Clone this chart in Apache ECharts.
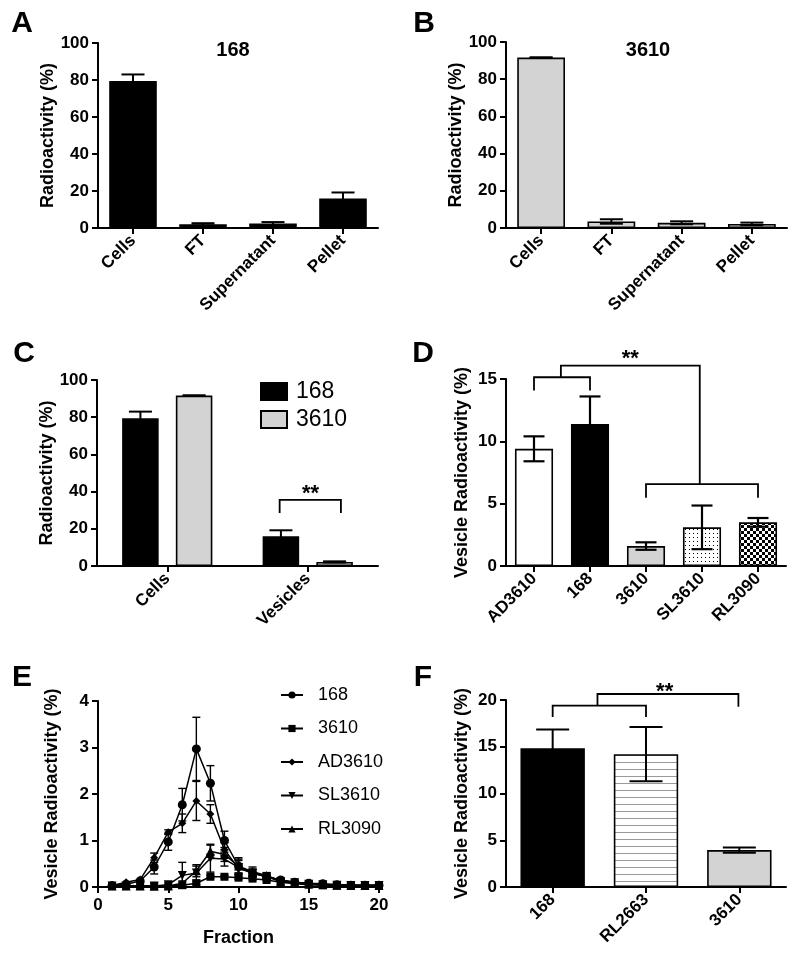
<!DOCTYPE html>
<html><head><meta charset="utf-8">
<script src="https://cdn.jsdelivr.net/npm/echarts@6/dist/echarts.min.js"></script>
<style>html,body{margin:0;padding:0;background:#fff}#c{width:800px;height:961px}</style>
</head><body><div id="c"></div>
<script>
// ---------- DATA ----------
const catsAB = ['Cells', 'FT', 'Supernatant', 'Pellet'];
const valA = [79.5, 2.0, 2.4, 16.0];
const errA = [3.5, 0.6, 0.8, 3.2];
const valB = [91.6, 3.5, 2.8, 2.2];
const errB = [0.2, 1.2, 0.8, 0.7];

const catsC = ['Cells', 'Vesicles'];
const valC168 = [79.5, 16.0];
const errC168 = [3.5, 3.2];
const valC3610 = [91.6, 2.2];
const errC3610 = [0.2, 0.3];

const catsD = ['AD3610', '168', '3610', 'SL3610', 'RL3090'];
const valD = [9.4, 11.4, 1.6, 3.1, 3.5];
const errD = [1.0, 2.2, 0.3, 1.75, 0.35];

const fractions = [1, 2, 3, 4, 5, 6, 7, 8, 9, 10, 11, 12, 13, 14, 15, 16, 17, 18, 19, 20];
const e168    = [0.03, 0.06, 0.13, 0.43, 0.97, 1.77, 2.97, 2.23, 1.00, 0.45, 0.30, 0.22, 0.15, 0.10, 0.08, 0.07, 0.05, 0.04, 0.04, 0.04];
const e168Err = [0, 0, 0, 0.15, 0.18, 0.35, 0.68, 0.38, 0.20, 0.18, 0.08, 0.06, 0.03, 0, 0, 0, 0, 0, 0, 0];
const e3610    = [0.02, 0.02, 0.02, 0.01, 0.02, 0.04, 0.08, 0.22, 0.22, 0.20, 0.18, 0.15, 0.10, 0.07, 0.05, 0.04, 0.03, 0.03, 0.03, 0.03];
const e3610Err = [0, 0, 0, 0, 0, 0, 0.03, 0.03, 0.03, 0.03, 0.03, 0.03, 0, 0, 0, 0, 0, 0, 0, 0];
const eAD    = [0.03, 0.10, 0.16, 0.63, 1.18, 1.37, 1.85, 1.57, 0.80, 0.40, 0.30, 0.22, 0.15, 0.10, 0.07, 0.06, 0.05, 0.04, 0.03, 0.03];
const eADErr = [0, 0, 0, 0.10, 0.05, 0.20, 0.42, 0.20, 0.15, 0.10, 0.05, 0.04, 0, 0, 0, 0, 0, 0, 0, 0];
const eSL    = [0.02, 0.02, 0.02, 0.02, 0.05, 0.25, 0.30, 0.62, 0.60, 0.42, 0.30, 0.22, 0.12, 0.09, 0.06, 0.05, 0.04, 0.03, 0.03, 0.03];
const eSLErr = [0, 0, 0, 0, 0, 0.28, 0.15, 0.30, 0.15, 0.15, 0.08, 0.05, 0, 0, 0, 0, 0, 0, 0, 0];
const eRL    = [0.02, 0.02, 0.02, 0.02, 0.02, 0.08, 0.35, 0.77, 0.70, 0.45, 0.33, 0.25, 0.13, 0.10, 0.07, 0.05, 0.04, 0.03, 0.03, 0.03];
const eRLErr = [0, 0, 0, 0, 0, 0.05, 0.13, 0.13, 0.15, 0.15, 0.10, 0.06, 0, 0, 0, 0, 0, 0, 0, 0];
const legendE = ['168', '3610', 'AD3610', 'SL3610', 'RL3090'];

const catsF = ['168', 'RL2663', '3610'];
const valF = [14.85, 14.2, 3.95];
const errF = [2.0, 2.9, 0.28];

const ticksAC = [0, 100, 20];
const ticksD = [0, 15, 5];
const ticksE_y = [0, 4, 1];
const ticksE_x = [0, 20, 5];
const ticksF = [0, 20, 5];

// significance brackets: [x1, x2, top, leg1Bottom, leg2Bottom] (x in category-band units from first category)
const brC = [[0.80, 1.236, 35.5, 28.5, 28.5]];
const starC = [[1.02, 38.5]];
const brD = [[0, 1, 15.14, 14.07, 14.07], [2, 4, 6.57, 5.47, 5.47], [0.48, 2.96, 16.08, 15.14, 6.57]];
const starD = [[1.72, 16.6]];
const brF = [[0, 1, 19.39, 18.18, 18.18], [0.48, 1.99, 20.64, 19.39, 19.28]];
const starF = [[1.2, 20.9]];

// ---------- STYLE ----------
const FF = '"Liberation Sans", Arial, sans-serif';
const GRAY = '#d3d3d3';

function makePattern(w, h, draw) {
  const c = document.createElement('canvas'); c.width = w; c.height = h;
  const g = c.getContext('2d'); g.fillStyle = '#fff'; g.fillRect(0, 0, w, h); draw(g);
  return { image: c, repeat: 'repeat' };
}
const dotPat = makePattern(4, 4, g => { g.fillStyle = '#000'; g.fillRect(1, 1, 1, 1); });
const checkPat = makePattern(6, 6, g => { g.fillStyle = '#000'; g.fillRect(0, 0, 3, 3); g.fillRect(3, 3, 3, 3); });
const linePat = makePattern(4, 7, g => { g.fillStyle = '#999'; g.fillRect(0, 6, 4, 1); });

const grids = [
  { left: 98, top: 43, width: 280, height: 185 },
  { left: 506, top: 42, width: 281, height: 186 },
  { left: 97, top: 380, width: 281, height: 186 },
  { left: 506, top: 379, width: 280, height: 187 },
  { left: 98, top: 701, width: 281, height: 186 },
  { left: 506, top: 700, width: 280, height: 187 }
];

const axLine = { show: true, lineStyle: { color: '#000', width: 2 } };
const axTick = { show: true, length: 6, lineStyle: { color: '#000', width: 2 } };
const axLab = { color: '#000', fontWeight: 'bold', fontSize: 17, fontFamily: FF };

function catAxis(gi, cats) {
  return { type: 'category', gridIndex: gi, data: cats, axisLine: axLine,
    axisTick: Object.assign({ alignWithLabel: true }, axTick),
    axisLabel: Object.assign({ rotate: 45, margin: 10, interval: 0 }, axLab), splitLine: { show: false } };
}
function valAxis(gi, t, name, gap) {
  return { type: 'value', gridIndex: gi, min: t[0], max: t[1], interval: t[2],
    axisLine: axLine, axisTick: axTick, axisLabel: Object.assign({ margin: 9 }, axLab), splitLine: { show: false },
    name: name, nameLocation: 'middle', nameGap: gap,
    nameTextStyle: { color: '#000', fontWeight: 'bold', fontSize: 18, fontFamily: FF } };
}

function errSeries(gi, data, capW, lw, off) {
  return { type: 'custom', xAxisIndex: gi, yAxisIndex: gi, data: data, clip: false, z: 5, silent: true,
    renderItem: function (params, api) {
      const x = api.value(0), lo = api.value(1), hi = api.value(2);
      const pH = api.coord([x, hi]), pL = api.coord([x, lo]);
      const band = api.size([1, 0])[0];
      const cx = pH[0] + (off || 0) * band;
      const st = { stroke: '#000', lineWidth: lw };
      return { type: 'group', children: [
        { type: 'line', shape: { x1: cx, y1: pH[1], x2: cx, y2: pL[1] }, style: st },
        { type: 'line', shape: { x1: cx - capW / 2, y1: pH[1], x2: cx + capW / 2, y2: pH[1] }, style: st },
        { type: 'line', shape: { x1: cx - capW / 2, y1: pL[1], x2: cx + capW / 2, y2: pL[1] }, style: st }
      ] };
    } };
}
function errData(vals, errs, xs) {
  const out = [];
  vals.forEach((v, i) => { if (errs[i] > 0) out.push([xs ? xs[i] : i, v - errs[i], v + errs[i]]); });
  return out;
}
function bracketSeries(gi, data) {
  return { type: 'custom', xAxisIndex: gi, yAxisIndex: gi, data: data, clip: false, z: 6, silent: true,
    renderItem: function (params, api) {
      const band = api.size([1, 0])[0];
      const base = api.coord([0, 0])[0];
      const X = v => base + v * band;
      const Y = v => api.coord([0, v])[1];
      const x1 = X(api.value(0)), x2 = X(api.value(1)), yt = Y(api.value(2));
      return { type: 'polyline', shape: { points: [[x1, Y(api.value(3))], [x1, yt], [x2, yt], [x2, Y(api.value(4))]] },
        style: { stroke: '#000', lineWidth: 1.8, fill: null } };
    } };
}
function starSeries(gi, data) {
  return { type: 'custom', xAxisIndex: gi, yAxisIndex: gi, data: data, clip: false, z: 6, silent: true,
    renderItem: function (params, api) {
      const band = api.size([1, 0])[0];
      const base = api.coord([0, 0])[0];
      const x = base + api.value(0) * band, y = api.coord([0, api.value(1)])[1];
      return { type: 'text', x: x, y: y, style: { text: '**', fill: '#000', font: 'bold 22px ' + FF, align: 'center', verticalAlign: 'middle' } };
    } };
}
function barSeries(name, gi, vals, color, bw, extra) {
  const multi = Array.isArray(color);
  return Object.assign({ type: 'bar', name: name, xAxisIndex: gi, yAxisIndex: gi, barWidth: bw,
    data: vals.map((v, i) => multi ? { value: v, itemStyle: { color: color[i] } } : v),
    itemStyle: { color: multi ? '#000' : color, borderColor: '#000', borderWidth: 1.6 } }, extra || {});
}
function lineSeries(name, vals, sym, size, rot) {
  return { type: 'line', name: 'E:' + name, xAxisIndex: 4, yAxisIndex: 4,
    data: vals.map((v, i) => [fractions[i], v]), symbol: sym, symbolSize: size, symbolRotate: rot || 0,
    showSymbol: true, lineStyle: { color: '#000', width: 1.5 }, itemStyle: { color: '#000' }, z: 3 };
}

const letters = [['A', 22, 24], ['B', 424, 24], ['C', 24, 354], ['D', 423, 354], ['E', 22, 678], ['F', 423, 678]];
const titles = [['168', 233, 50], ['3610', 648, 50]];
const graphics = letters.map(l => ({ type: 'text', x: l[1], y: l[2],
  style: { text: l[0], fill: '#000', font: 'bold 30px ' + FF, align: 'center', verticalAlign: 'middle' } }))
  .concat(titles.map(t => ({ type: 'text', x: t[1], y: t[2],
  style: { text: t[0], fill: '#000', font: 'bold 20px ' + FF, align: 'center', verticalAlign: 'middle' } })));

const option = {
  animation: false,
  backgroundColor: '#fff',
  grid: grids,
  graphic: graphics,
  legend: [
    { data: [{ name: '168', icon: 'rect' }, { name: '3610', icon: 'rect' }], orient: 'vertical', left: 260, top: 380, padding: 0,
      itemWidth: 26, itemHeight: 17, itemGap: 5,
      textStyle: { color: '#000', fontSize: 23, fontFamily: FF, padding: [0, 0, 0, 4] }, selectedMode: false },
    { data: legendE.map(n => 'E:' + n), orient: 'vertical', left: 280, top: 686, padding: 0, itemWidth: 22, itemHeight: 9, itemGap: 15.5,
      formatter: n => n.replace('E:', ''), textStyle: { color: '#000', fontSize: 18, fontFamily: FF, padding: [0, 0, 0, 10] }, selectedMode: false }
  ],
  xAxis: [
    catAxis(0, catsAB), catAxis(1, catsAB), catAxis(2, catsC), catAxis(3, catsD),
    { type: 'value', gridIndex: 4, min: ticksE_x[0], max: ticksE_x[1], interval: ticksE_x[2],
      axisLine: axLine, axisTick: axTick, axisLabel: Object.assign({ margin: 10 }, axLab), splitLine: { show: false },
      name: 'Fraction', nameLocation: 'middle', nameGap: 42,
      nameTextStyle: { color: '#000', fontWeight: 'bold', fontSize: 18, fontFamily: FF } },
    catAxis(5, catsF)
  ],
  yAxis: [
    valAxis(0, ticksAC, 'Radioactivity (%)', 37), valAxis(1, ticksAC, 'Radioactivity (%)', 37),
    valAxis(2, ticksAC, 'Radioactivity (%)', 37), valAxis(3, ticksD, 'Vesicle Radioactivity (%)', 35),
    valAxis(4, ticksE_y, 'Vesicle Radioactivity (%)', 37), valAxis(5, ticksF, 'Vesicle Radioactivity (%)', 35)
  ],
  series: [
    barSeries('A', 0, valA, '#000', '68%'),
    errSeries(0, errData(valA, errA), 23, 2),
    barSeries('B', 1, valB, GRAY, '68%'),
    errSeries(1, errData(valB, errB), 23, 2),
    barSeries('168', 2, valC168, '#000', '26%', { barGap: '47%' }),
    barSeries('3610', 2, valC3610, GRAY, '26%', { barGap: '47%' }),
    errSeries(2, errData(valC168, errC168), 23, 2, -0.191),
    errSeries(2, errData(valC3610, errC3610), 23, 2, 0.191),
    bracketSeries(2, brC), starSeries(2, starC),
    barSeries('D', 3, valD, ['#fff', '#000', GRAY, dotPat, checkPat], '68%'),
    errSeries(3, errData(valD, errD), 21, 2.2),
    bracketSeries(3, brD), starSeries(3, starD),
    lineSeries('168', e168, 'circle', 9),
    lineSeries('3610', e3610, 'rect', 8),
    lineSeries('AD3610', eAD, 'diamond', 8),
    lineSeries('SL3610', eSL, 'triangle', 9, 180),
    lineSeries('RL3090', eRL, 'triangle', 9),
    errSeries(4, errData(e168, e168Err, fractions), 8, 1.4),
    errSeries(4, errData(e3610, e3610Err, fractions), 8, 1.4),
    errSeries(4, errData(eAD, eADErr, fractions), 8, 1.4),
    errSeries(4, errData(eSL, eSLErr, fractions), 8, 1.4),
    errSeries(4, errData(eRL, eRLErr, fractions), 8, 1.4),
    barSeries('F', 5, valF, ['#000', linePat, GRAY], '69%'),
    errSeries(5, errData(valF, errF), 33, 2),
    bracketSeries(5, brF), starSeries(5, starF)
  ]
};
const chart = echarts.init(document.getElementById('c'), null, { renderer: 'canvas' });
chart.setOption(option);
</script></body></html>
